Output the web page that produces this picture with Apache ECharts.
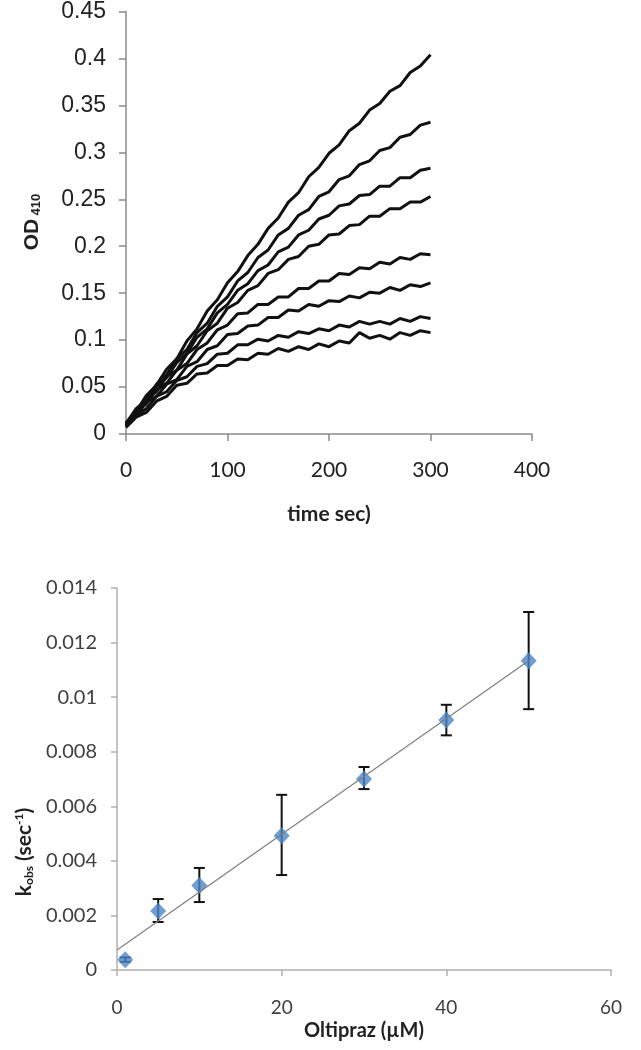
<!DOCTYPE html>
<html>
<head>
<meta charset="utf-8">
<script src="https://cdn.jsdelivr.net/npm/echarts@6/dist/echarts.min.js"></script>
<style>
html,body{margin:0;padding:0;background:#fff;}
#chart{width:641px;height:1050px;}
</style>
</head>
<body>
<div id="chart"></div>
<script>
// ---- Top panel: OD410 vs time (8 kinetic traces, sampled every 10 s) ----
const timeSec = [0,10,20,30,40,50,60,70,80,90,100,110,120,130,140,150,160,170,180,190,200,210,220,230,240,250,260,270,280,290,300];
const trace1 = [0.012,0.024,0.041,0.052,0.069,0.080,0.099,0.112,0.131,0.143,0.161,0.173,0.190,0.202,0.219,0.230,0.247,0.257,0.274,0.284,0.299,0.308,0.323,0.331,0.345,0.352,0.365,0.371,0.385,0.392,0.404];
const trace2 = [0.011,0.027,0.036,0.053,0.063,0.080,0.090,0.108,0.118,0.136,0.146,0.163,0.172,0.188,0.196,0.212,0.219,0.233,0.239,0.253,0.258,0.271,0.275,0.287,0.291,0.302,0.305,0.316,0.319,0.329,0.332];
const trace3 = [0.010,0.025,0.035,0.051,0.060,0.076,0.086,0.103,0.112,0.129,0.138,0.153,0.160,0.174,0.180,0.194,0.199,0.212,0.217,0.229,0.233,0.243,0.245,0.254,0.255,0.264,0.264,0.273,0.273,0.281,0.283];
const trace4 = [0.011,0.021,0.037,0.045,0.061,0.068,0.085,0.094,0.110,0.118,0.134,0.140,0.153,0.158,0.171,0.175,0.186,0.189,0.200,0.202,0.212,0.213,0.222,0.223,0.232,0.232,0.240,0.240,0.247,0.247,0.253];
const trace5 = [0.009,0.023,0.032,0.047,0.054,0.068,0.075,0.090,0.097,0.111,0.116,0.128,0.129,0.138,0.138,0.146,0.146,0.155,0.155,0.163,0.163,0.171,0.170,0.177,0.176,0.183,0.181,0.188,0.186,0.192,0.191];
const trace6 = [0.010,0.019,0.034,0.040,0.053,0.058,0.072,0.077,0.090,0.094,0.106,0.107,0.115,0.116,0.124,0.124,0.132,0.131,0.138,0.136,0.142,0.141,0.147,0.145,0.151,0.150,0.156,0.153,0.159,0.157,0.161];
const trace7 = [0.008,0.020,0.027,0.040,0.045,0.057,0.061,0.072,0.075,0.085,0.086,0.095,0.095,0.101,0.099,0.105,0.103,0.109,0.107,0.112,0.110,0.116,0.114,0.120,0.117,0.120,0.117,0.123,0.120,0.125,0.123];
const trace8 = [0.007,0.018,0.023,0.035,0.040,0.052,0.054,0.064,0.065,0.073,0.073,0.080,0.079,0.086,0.085,0.091,0.088,0.093,0.090,0.096,0.093,0.099,0.097,0.108,0.102,0.105,0.101,0.108,0.105,0.110,0.108];
const traces = [trace1,trace2,trace3,trace4,trace5,trace6,trace7,trace8];
const topX = {min:0, max:400, interval:100};
const topY = {min:0, max:0.45, interval:0.05};

// ---- Bottom panel: k_obs vs Oltipraz ----
const oltipraz = [1,5,10,20,30,40,50];
const kobs     = [0.00038,0.00216,0.00310,0.00492,0.00700,0.00916,0.01133];
const kobsLow  = [0.00030,0.00176,0.00249,0.00348,0.00663,0.00860,0.00956];
const kobsHigh = [0.00046,0.00260,0.00374,0.00642,0.00744,0.00972,0.01312];
const trendX = [0,50];
const trendY = [0.00073,0.01133];
const botX = {min:0, max:60, interval:20};
const botY = {min:0, max:0.014, interval:0.002};

const chart = echarts.init(document.getElementById('chart'), null, {renderer:'canvas'});

const trim = d => v => String(+v.toFixed(d));

const series = [];
traces.forEach((tr,i) => {
  series.push({
    type:'line', xAxisIndex:0, yAxisIndex:0, showSymbol:false, animation:false,
    data: timeSec.map((t,j)=>[t,tr[j]]),
    lineStyle:{color:'#111', width:3}, z:2
  });
});
series.push({
  type:'custom', xAxisIndex:1, yAxisIndex:1, animation:false, z:3,
  data: oltipraz.map((x,i)=>[x,kobsLow[i],kobsHigh[i]]),
  renderItem: function(params, api){
    const x = api.value(0);
    const lo = api.coord([x, api.value(1)]);
    const hi = api.coord([x, api.value(2)]);
    const w = 5.5;
    const st = {stroke:'#111', lineWidth:2};
    return {type:'group', children:[
      {type:'line', shape:{x1:lo[0],y1:lo[1],x2:hi[0],y2:hi[1]}, style:st},
      {type:'line', shape:{x1:lo[0]-w,y1:lo[1],x2:lo[0]+w,y2:lo[1]}, style:st},
      {type:'line', shape:{x1:hi[0]-w,y1:hi[1],x2:hi[0]+w,y2:hi[1]}, style:st}
    ]};
  }
});
series.push({
  type:'scatter', xAxisIndex:1, yAxisIndex:1, animation:false, z:4,
  symbol:'diamond', symbolSize:[16,17],
  itemStyle:{color:'#4a86c8'},
  data: oltipraz.map((x,i)=>[x,kobs[i]])
});
series.push({
  type:'line', xAxisIndex:1, yAxisIndex:1, animation:false, z:5, showSymbol:false,
  data: trendX.map((x,i)=>[x,trendY[i]]),
  lineStyle:{color:'#7f7f7f', width:1.2}
});

const option = {
  backgroundColor:'#ffffff',
  animation:false,
  grid:[
    {left:126, top:10, width:406, height:424},
    {left:117, top:588, width:494, height:382}
  ],
  xAxis:[
    {gridIndex:0, type:'value', min:topX.min, max:topX.max, interval:topX.interval,
     axisLine:{show:true, lineStyle:{color:'#8a8a8a', width:1.5}},
     axisTick:{show:true, inside:false, length:7, lineStyle:{color:'#8a8a8a', width:1.5}},
     splitLine:{show:false},
     axisLabel:{margin:26, fontFamily:'Lato', fontSize:21, color:'#222'},
     name:'time sec)', nameLocation:'middle', nameGap:70,
     nameTextStyle:{fontFamily:'Lato', fontWeight:'bold', fontSize:21, color:'#222'}},
    {gridIndex:1, type:'value', min:botX.min, max:botX.max, interval:botX.interval,
     axisLine:{show:true, lineStyle:{color:'#b0b0b0', width:1.5}},
     axisTick:{show:true, inside:false, length:6, lineStyle:{color:'#b0b0b0', width:1.5}},
     splitLine:{show:false},
     axisLabel:{margin:28, fontFamily:'Lato', fontSize:19, color:'#404040'},
     name:'Oltipraz (µM)', nameLocation:'middle', nameGap:51,
     nameTextStyle:{fontFamily:'Lato', fontWeight:'bold', fontSize:20, color:'#222'}}
  ],
  yAxis:[
    {gridIndex:0, type:'value', min:topY.min, max:topY.max, interval:topY.interval,
     axisLine:{show:true, lineStyle:{color:'#8a8a8a', width:1.5}},
     axisTick:{show:true, inside:false, length:7, lineStyle:{color:'#8a8a8a', width:1.5}},
     splitLine:{show:false},
     axisLabel:{margin:20, fontFamily:'Liberation Sans', fontSize:23, color:'#222', formatter:trim(2)}},
    {gridIndex:1, type:'value', min:botY.min, max:botY.max, interval:botY.interval,
     axisLine:{show:true, lineStyle:{color:'#b0b0b0', width:1.5}},
     axisTick:{show:true, inside:false, length:6, lineStyle:{color:'#b0b0b0', width:1.5}},
     splitLine:{show:false},
     axisLabel:{margin:20, fontFamily:'Lato', fontSize:20, color:'#404040', formatter:trim(3)}}
  ],
  graphic:[
    {type:'text', x:32, y:222, rotation:Math.PI/2, z:10,
     style:{text:'{a|OD} {s|410}', align:'center', verticalAlign:'middle',
       rich:{a:{fontFamily:'Liberation Sans', fontWeight:'bold', fontSize:21, fill:'#222'},
             s:{fontFamily:'Liberation Sans', fontWeight:'bold', fontSize:13, fill:'#222', padding:[8,0,0,0]}}}},
    {type:'text', x:24, y:852, rotation:Math.PI/2, z:10,
     style:{text:'{a|k}{s|obs}{a| (sec}{p|-1}{a|)}', align:'center', verticalAlign:'middle',
       rich:{a:{fontFamily:'Lato', fontWeight:'bold', fontSize:21, fill:'#222'},
             s:{fontFamily:'Lato', fontWeight:'bold', fontSize:12, fill:'#222', padding:[10,0,0,0]},
             p:{fontFamily:'Lato', fontWeight:'bold', fontSize:12, fill:'#222', padding:[0,0,10,0]}}}}
  ],
  series: series
};
chart.setOption(option);
</script>
</body>
</html>
